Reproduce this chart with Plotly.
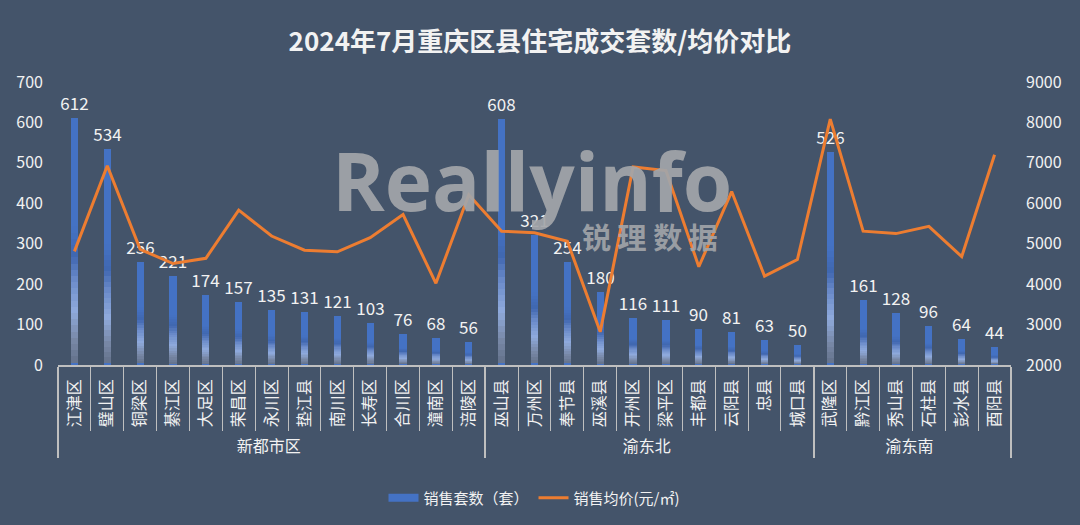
import plotly.graph_objects as go

groups = ["新都市区"] * 13 + ["渝东北"] * 10 + ["渝东南"] * 6
districts = ["江津区", "璧山区", "铜梁区", "綦江区", "大足区", "荣昌区", "永川区", "垫江县", "南川区",
             "长寿区", "合川区", "潼南区", "涪陵区",
             "巫山县", "万州区", "奉节县", "巫溪县", "开州区", "梁平区", "丰都县", "云阳县", "忠县", "城口县",
             "武隆区", "黔江区", "秀山县", "石柱县", "彭水县", "酉阳县"]
sales = [612, 534, 256, 221, 174, 157, 135, 131, 121, 103, 76, 68, 56,
         608, 321, 254, 180, 116, 111, 90, 81, 63, 50,
         526, 161, 128, 96, 64, 44]
price = [4810, 6930, 4860, 4510, 4640, 5830, 5190, 4840, 4800, 5150, 5720, 4020, 6210,
         5310, 5270, 5060, 2820, 6900, 6810, 4430, 6290, 4200, 4610,
         8080, 5310, 5250, 5430, 4680, 7200]

BG = "#44546A"
TXT = "#F2F2F2"
FONT = "Noto Sans CJK SC"
x = [groups, districts]

# gradient stops (fraction of bar height from bottom, rgb)
stops = [(0.00, (0x62, 0x70, 0x88)), (0.10, (0x78, 0x88, 0xA6)), (0.22, (0x8F, 0xAA, 0xDC)),
         (0.34, (0x6C, 0x8C, 0xCA)), (0.44, (0x40, 0x67, 0xB0)), (0.56, (0x44, 0x72, 0xC4)),
         (1.00, (0x44, 0x72, 0xC4))]


def grad(f):
    for (f0, c0), (f1, c1) in zip(stops[:-1], stops[1:]):
        if f0 <= f <= f1:
            t = (f - f0) / (f1 - f0) if f1 > f0 else 0
            return "rgb(%d,%d,%d)" % tuple(round(a + (b - a) * t) for a, b in zip(c0, c1))
    return "rgb(68,114,196)"


fracs = [1.0] + [round(0.56 - 0.025 * k, 3) for k in range(23)]
fig = go.Figure()
for i, f in enumerate(fracs):
    col = grad(f - 0.0125) if i else "#4472C4"
    fig.add_trace(go.Bar(
        x=x, y=[v * f for v in sales], width=0.22,
        marker=dict(color=col, line=dict(width=0)),
        name="销售套数（套）", showlegend=False,
        text=[str(v) for v in sales] if i == 0 else None,
        textposition="outside" if i == 0 else "none",
        constraintext="none", cliponaxis=False,
        textfont=dict(color=TXT, size=17, family=FONT),
        hoverinfo="skip" if i else None,
    ))

# legend key for the bar series
fig.add_trace(go.Scatter(x=[None], y=[None], mode="lines", name="销售套数（套）",
                         line=dict(color="#4472C4", width=8), showlegend=True))

fig.add_trace(go.Scatter(
    x=x, y=price, yaxis="y2", mode="lines",
    line=dict(color="#ED7D31", width=3),
    name="销售均价(元/㎡)",
))

fig.update_layout(
    width=1080, height=525,
    paper_bgcolor=BG, plot_bgcolor=BG,
    font=dict(family=FONT, color=TXT, size=15),
    margin=dict(l=58, r=69, t=82, b=159),
    barmode="overlay", bargap=0,
    title=dict(text="<b>2024年7月重庆区县住宅成交套数/均价对比</b>", x=0.5, xanchor="center",
               y=0.92, yanchor="middle", font=dict(size=26, color=TXT, family=FONT)),
    xaxis=dict(type="multicategory", showline=True, linecolor="#BFBFBF", linewidth=1.5,
               ticks="outside", tickson="boundaries", ticklen=64, tickcolor="#BFBFBF",
               tickangle=-90, showdividers=True, dividercolor="#BFBFBF", dividerwidth=1.5,
               ticklabelstandoff=6,
               tickfont=dict(size=16, color=TXT, family=FONT), showgrid=False),
    yaxis=dict(range=[0, 700], dtick=100, showgrid=False, zeroline=False, showline=False,
               ticklabelstandoff=14, tickfont=dict(size=16, color=TXT, family=FONT)),
    yaxis2=dict(range=[2000, 9000], dtick=1000, overlaying="y", side="right", showgrid=False,
                zeroline=False, showline=False, ticklabelstandoff=14,
                tickfont=dict(size=16, color=TXT, family=FONT)),
    legend=dict(orientation="h", x=0.5, xanchor="center", y=-0.465, yanchor="middle",
                font=dict(size=15, color=TXT, family=FONT), bgcolor="rgba(0,0,0,0)",
                traceorder="normal", itemwidth=30),
)

# watermark
fig.add_annotation(text="<b>Reallyinfo</b>", xref="paper", yref="paper", x=0.497, y=0.655,
                   xanchor="center", yanchor="middle", showarrow=False,
                   font=dict(size=80, color="#A3A6AA", family="Open Sans"), opacity=0.92)
fig.add_annotation(text="<b>锐 理 数 据</b>", xref="paper", yref="paper", x=0.621, y=0.455,
                   xanchor="center", yanchor="middle", showarrow=False,
                   font=dict(size=29, color="#A3A6AA", family=FONT), opacity=0.9)

fig.write_html("out.html")
